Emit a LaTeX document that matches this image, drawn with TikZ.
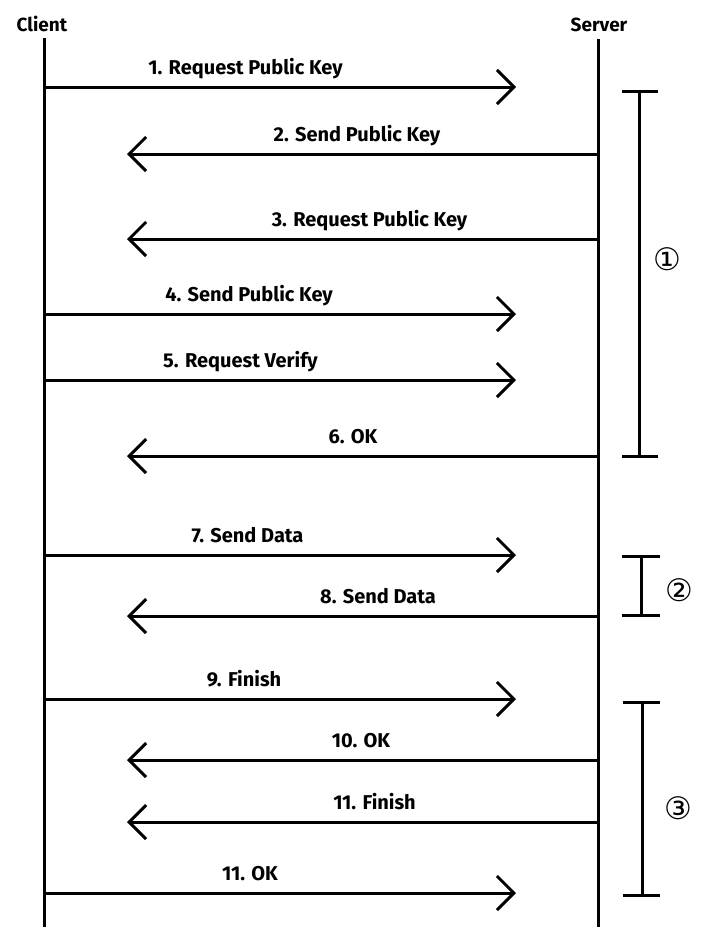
\documentclass[tikz,border=0pt]{standalone}
\usepackage{fontspec}
\setmainfont{Fira Sans}
\newfontfamily\circfont{DejaVu Sans}
\usetikzlibrary{arrows.meta}
\tikzset{
  lifeline/.style={line width=3pt},
  msg/.style={line width=3pt, -{Straight Barb[length=17pt,width=34pt,line width=3pt]}},
  msglabel/.style={anchor=base, inner sep=0pt, font=\bfseries\fontsize{20}{22}\selectfont},
  actor/.style={anchor=base, inner sep=0pt, font=\bfseries\fontsize{19}{21}\selectfont},
  brk/.style={line width=3pt},
  circnum/.style={inner sep=0pt, font=\circfont\fontsize{31}{33}\selectfont}
}
\begin{document}
\begin{tikzpicture}[x=1pt,y=-1pt]
\useasboundingbox (0,0) rectangle (701,927);
% actors
\node[actor] (client) at (42,31) {Client};
\node[actor] (server) at (599,31) {Server};
\coordinate (ctop) at (44,38);
\coordinate (cbot) at (44,927);
\coordinate (stop) at (598,39);
\coordinate (sbot) at (598,927);
\draw[lifeline] (ctop) -- (cbot);
\draw[lifeline] (stop) -- (sbot);
% messages: y positions
\foreach \i/\y in {1/87,2/154,3/239,4/314,5/380,6/456,7/555,8/616,9/699,10/760,11/822,12/893}{
  \coordinate (c\i) at (44,\y);
  \coordinate (s\i) at (598,\y);
  \coordinate (cr\i) at (516,\y);
  \coordinate (sl\i) at (127,\y);
}
\draw[msg] (c1) -- (cr1);
\draw[msg] (s2) -- (sl2);
\draw[msg] (s3) -- (sl3);
\draw[msg] (c4) -- (cr4);
\draw[msg] (c5) -- (cr5);
\draw[msg] (s6) -- (sl6);
\draw[msg] (c7) -- (cr7);
\draw[msg] (s8) -- (sl8);
\draw[msg] (c9) -- (cr9);
\draw[msg] (s10) -- (sl10);
\draw[msg] (s11) -- (sl11);
\draw[msg] (c12) -- (cr12);
% labels
\node[msglabel] (l1) at (245.5,74) {1. Request Public Key};
\node[msglabel] (l2) at (357,141) {2. Send Public Key};
\node[msglabel] (l3) at (369.5,226) {3. Request Public Key};
\node[msglabel] (l4) at (249,301) {4. Send Public Key};
\node[msglabel] (l5) at (240.5,367) {5. Request Verify};
\node[msglabel] (l6) at (353,443) {6. OK};
\node[msglabel] (l7) at (247.5,542) {7. Send Data};
\node[msglabel] (l8) at (378,603) {8. Send Data};
\node[msglabel] (l9) at (244,686) {9. Finish};
\node[msglabel] (l10) at (361,747) {10. OK};
\node[msglabel] (l11) at (374.5,809) {11. Finish};
\node[msglabel] (l12) at (250,880) {11. OK};
% brackets
\coordinate (b1t) at (639,91);  \coordinate (b1b) at (639,456);
\coordinate (b2t) at (641,556); \coordinate (b2b) at (641,615);
\coordinate (b3t) at (642,702); \coordinate (b3b) at (642,895);
\draw[brk] (b1t) -- (b1b);
\draw[brk] ([xshift=-17pt]b1t) -- ([xshift=19pt]b1t);
\draw[brk] ([xshift=-17pt]b1b) -- ([xshift=19pt]b1b);
\draw[brk] (b2t) -- (b2b);
\draw[brk] ([xshift=-19pt]b2t) -- ([xshift=19pt]b2t);
\draw[brk] ([xshift=-19pt]b2b) -- ([xshift=19pt]b2b);
\draw[brk] (b3t) -- (b3b);
\draw[brk] ([xshift=-19pt]b3t) -- ([xshift=18pt]b3t);
\draw[brk] ([xshift=-19pt]b3b) -- ([xshift=18pt]b3b);
\node[circnum] (n1) at (667,259) {①};
\node[circnum] (n2) at (679,590) {②};
\node[circnum] (n3) at (678,808) {③};
\end{tikzpicture}
\end{document}
